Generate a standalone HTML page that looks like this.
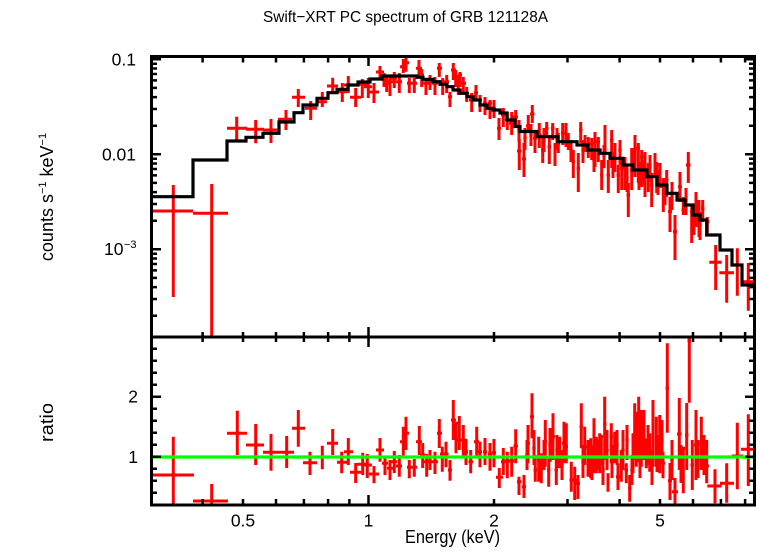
<!DOCTYPE html>
<html><head><meta charset="utf-8"><style>
html,body{margin:0;padding:0;background:#fff;}
svg{display:block;}
text{font-family:"Liberation Sans",Arial,sans-serif;fill:#000;}
</style></head><body>
<svg width="758" height="556" viewBox="0 0 758 556" xmlns="http://www.w3.org/2000/svg">
<rect width="758" height="556" fill="#fff"/>
<defs>
<clipPath id="ct"><rect x="151.5" y="56.5" width="603" height="280.5"/></clipPath>
<clipPath id="cb"><rect x="151.5" y="337" width="603" height="168"/></clipPath>
</defs>

<!-- title -->
<text x="405.5" y="22" font-size="16" text-anchor="middle" textLength="285" lengthAdjust="spacingAndGlyphs">Swift−XRT PC spectrum of GRB 121128A</text>

<!-- top panel data -->
<g clip-path="url(#ct)" fill="none" stroke="#ff0000" stroke-width="3">
<path d="M151.5 211H193M173.3 185V297M193 213.3H228M211.7 184V337M227 128.3H247M236.7 116.7V140M246 129.3H264M255.7 120V143.3M263 130H278M271 119V143M278 119.3H292M286 110V130M292 97.3H305M298.3 89V107M305 108.3H317M310.7 101V120M318 101.7H327M322.3 92V107M327 86H338M332.7 77.7V93.3M337 91.7H347M342.3 83V102M344 85H353M348.3 76V93M350 97.3H361M355.7 88V107M357 84.3H367M362.3 79V98M364 86.7H372M368.3 78V98M369 92H379M374 83V103M376 72H384M380 66V78M381 79.3H387M384 73V87M383 83.3H390M386.7 76V92M387 81.7H393M390 75V96M391 78.3H397M394.3 72V88M396 81.7H402M399.3 73V93M400 66.7H406M403.3 59V73M403 62.7H409M406 55V71.7M407 83.3H412M409.3 78V93M411 83.3H417M414.3 78V93M416 68.3H422M419 60V77M419 75H424M421.7 69V87M423 83.3H429M426 79V95M427 81.7H433M430 75V90M432 83.3H438M435 77V95M437 68.3H442M439.3 63V77M440 83.3H445M442.7 78V95M444 81.7H449M446.7 75V93M448 96.7H452M450 92V107M451 70H456M453.3 63V80M453 76.7H458M455.7 70V87M456 83.3H461M458.3 75V95M458 75H462M460 72V87M461 83.3H466M463.3 77V92M464 93.3H469M466.7 87V102M469 100H474M471.7 93V112M474 92.7H478M476 85V100M478 100H482M480 95V112M483 103.3H487M485 97V115M488 103.3H492M490 100V119M492 108.3H496M494 100V118M497 128.3H501M499 118V140M501 115H505.5M503.3 108V127M505 120H509M507.3 112V130M509 123.3H514M511.7 112V135M513 117H518M515.7 110V127M517 151H521.5M519.3 139V170M522 159H526M524 143V177M526 126H530.5M528.3 115V132M530 114H534.5M532.3 105V123M533 138.3H537M535 130V153M537 135H541.5M539.3 123V148M541 150H544.5M542.7 135V163M545 128.3H548.5M546.7 122V138M547.5 146.7H551M549.3 138V164M551 128.3H554.5M552.7 123V140M553.5 150H556.5M555 143V166M556.5 143.3H560M558.3 133V153M561 133.3H564.5M562.7 123V145M564.5 135H567.5M566 123V147M567 143.3H570M568.3 133V150M571.5 161.7H575M573.3 150V178M576.5 168.3H580M578.3 153V192M579 130H582.5M580.7 122V143M583.5 140H586.5M585 135V152M586.5 145H590M588.3 137V158M590 143.3H593.5M591.7 138V160M593.5 151.7H596.5M595 132V167M596.5 141.7H600M598.3 137V162M600 175H603.5M601.7 160V190M603.5 136.7H606.5M605 125V155M606.5 175H610M608.3 160V193M610 140H613.5M611.7 130V168M613.5 153.3H616.5M615 143V172M616.5 175H620M618.3 165V193M620 168.3H623.5M621.7 157V190M623.5 166.7H626.5M625 157V190M626.5 195H630M628.3 183V217M630 170H633.5M631.7 148V190M633.5 143.3H636.5M635 135V177M636.5 148.3H640M638.3 143V183M640 156.7H643.5M641.7 150V187M643.5 155H646.5M645 152V197M646.5 173.3H650M648.3 163V192M650 185H653.5M651.7 173V207M653.5 160H656.5M655 153V177M655 165H658.5M656.7 162V193M658.5 171.7H661.5M660 163V188M661.5 186.7H665M663.3 178V212M665 180H668.5M666.7 170V197M668 211.7H672M670 197V232M673 231.7H677M675 215V260M678 186.7H682M680 172V202M681.5 210H685.5M683.3 197V215M686 165H690.5M688.3 152V183M690 211.7H693.5M691.7 205V243M694 206.7H698M696 192V227M697.5 216.7H701M699 200V237M701 208.3H704.5M702.7 200V222M705 221.7H709.5M707.3 217V235M709.3 262.3H721.7M715.7 245V290M719.3 272.7H734M726.7 255V302.7M734 265H741M737.3 248.3V295.7M743 281.7H754.5M748.3 263V310.7"/>
<path d="M542.3 140H545.7M544 128V152M555.3 138H558.7M557 128V150M569.3 150H572.7M571 140V162M581.3 150H584.7M583 140V163M592.3 160H595.7M594 148V172M602.3 155H605.7M604 145V168M611.3 165H614.7M613 152V178M618.3 150H621.7M620 140V165M625.3 178H628.7M627 165V192M631.3 158H634.7M633 148V172M637.3 175H640.7M639 162V190M642.3 170H645.7M644 160V185M648.3 165H651.7M650 155V182M656.3 180H659.7M658 170V195M663.3 190H666.7M665 178V205M670.3 195H673.7M672 182V210M684.3 200H687.7M686 188V215M692.3 220H695.7M694 208V235M698.3 225H701.7M700 212V240M517.3 130H520.7M519 120V142M523.3 138H526.7M525 128V150M529.3 135H532.7M531 124V146"/>
</g>
<!-- model -->
<g clip-path="url(#ct)">
<path fill="none" stroke="#000" stroke-width="3.2" d="M151.5 196.7H193V160H227V141H246V137.3H263V133.3H279V122H294V112.7H303V105H317V98.3H328V92.7H337V89.3H348V85H358V82H370V79H382V76H417V77.3H423V79.3H433V81.7H440V84.3H447V86.7H453V90H460V93.3H467V96.7H473V100H480V105H487V108.3H493V110H500V113H507V120H515V126.5H520V131.5H537V136.7H558V141.7H577V145H588V150H600V153.3H610V158.3H623V165H633V170H647V176.7H657V185H667V193.3H677V200H685V205H693V215H700V220H706.7V235H720V250H732V265H742V285H754.5"/>
</g>

<!-- bottom panel data -->
<g clip-path="url(#cb)" fill="none" stroke="#ff0000" stroke-width="3">
<path d="M151.5 475H194M173.3 436.7V505M193 501H228M211.7 484V505M227 433.3H247M237.3 410.7V455M246 445H264M255.7 424V465M263 452.3H278M271 434V470.7M278 452.3H294M286.7 436V468M292 428.3H305M298.3 410V446.7M303 462.7H317M310 451.7V475M318 457H327M322.3 445.7V469.3M327 443.3H338M332.7 429V455M337 462.3H347M341.7 451.7V473.3M344 451.7H353M348.3 438V465M350 472.3H361M355.7 463V483M357 464.3H367M362.7 452.7V475M364 465H372M367.3 454V478M369 474H379M374 466V483.3M376 450H384M380 438V461.7M382 463.3H388M385 458V475M387 468.3H393M390 460V480M391 461.7H397M394.3 451V473M396 466H402M399.3 455V476.7M400 441.7H406M403.3 426.7V456M403 433.3H409M406 416.7V450M407 467.3H412M409.3 460V478.3M411 467.3H417M414.3 459V476.7M416 441.7H422M419.3 426V455M420 455H425M422.7 443V468M424 461.7H429M426.7 454V476.7M427 461.7H433M430 450V470M432 461.7H438M435 451.7V474M437 433.3H442M439.3 419V448M440 454H445M442.3 446.7V471.7M443.5 454H448.5M446 441.7V467.3M448 470H452M450 460V480.7M451 420H456M453.3 400V440M454 423.3H458M456 421.7V453.3M457 440H462M459.3 416V450M461 440H466M463.3 425V456.7M464 451.7H468M466 439V465M468.5 461.7H473M470.7 450V473.3M474 441.7H479M476.7 426.7V456.7M478 451.7H482M480 441.7V467.3M483 451.7H487M485 438V465M488 454H492M490 443V470.7M492 452.7H496M494 439V467.3M496 477.3H503M499.3 468V488M501 461.7H505.5M503.3 448V475M505 461H509.5M507.3 451.7V478.3M509.5 461H514M511.7 446.7V476.7M513.5 446H518M515.7 429.3V463.3M517 481.7H521.5M519 476.7V495M522 486.7H526M524 475V498M526 443.3H530M528 425V463.3M530 416.7H534M532 393.3V438.3M533.5 470H537M535.3 455V481.7M537 460H540.5M538.7 436.7V481.7M539.5 461.7H543M541.3 453.3V483.3M543.5 441.7H547M545.3 420V466.7M547 470H550.5M548.7 458.3V486.7M551 436.7H555M553 413.3V460M554.5 470H558M556.3 458.3V485M558 456.7H561.5M559.7 436.7V468.3M562 443.3H565M564 421.7V463.3M565 446.7H568M566.3 423.3V463.3M569.5 480H573M571.3 461.7V491.7M573 480H576.5M574.7 466.7V500M576 483.3H580M578 475V499M579.5 426.7H583M581.3 403.3V448.3M583 446.7H586.5M584.7 426.7V465M586.5 456.7H589.5M588 440V476.7M589 446.7H592.5M590.7 438.3V478.3M592.5 455H595.5M594 418.3V473.3M595 440H598M596.3 436.7V473.3M598 445H601M599.7 433.3V473.3M600 436.7H603M601.3 435V465M603 424H606.5M604.7 396.7V460M606.5 481.7H609.5M608 473.3V491.7M609.5 436.7H613M611.3 423.3V463.3M613 446.7H616.5M614.7 431.7V463.3M616 476.7H620M618 463.3V490M619.5 460H623M621.3 450V481.7M624.5 470H628M626.3 463.3V483.3M628 488.3H631.5M629.7 475V501.7M631.5 456.7H634M633 433.3V473.3M633.5 436.7H636M634.7 403.3V460M635 453.3H637.5M636.3 411.7V466.7M637.5 450H640M638.7 396.7V461.7M640 456.7H642.5M641.3 410V466.7M642.5 440H645.5M644 410V460M645 450H647.5M646.3 438.3V468.3M648 456.7H651.5M649.7 433.3V471.7M651.5 433.3H654.5M653 400V466.7M655 443.3H658M656.3 416.7V466.7M658 445H661.5M659.7 415V473.3M661 463.3H665M663 451.7V478.3M665.5 388.3H669M667.3 343.3V432.7M668 480.7H672M670 463V500M672 491.7H678M675 478V505M677 434H681.5M679.3 398V470M681.5 448.3H685M683.3 446.7V493.3M685 435H688.5M686.7 403V470M687.5 340.7H691M689.3 337V402.7M690.5 465H694M692.3 440V490M694 445H698M696 410V480M699 443.3H703.5M701.3 416.7V470M704.5 466H709M706.7 440V483.3M707.3 486H721.7M715 469.3V503.3M720 483.3H734M726.7 463.3V502.7M731.7 456H743.3M737.3 422.7V489.3M741 449.3H754.5M748.3 414.3V486"/>
<path d="M542.3 455H545.7M544 440V470M555.3 450H558.7M557 435V468M560.3 465H563.7M562 450V480M581.3 462H584.7M583 445V478M590.3 465H593.7M592 448V480M595.3 455H598.7M597 440V470M601.3 470H604.7M603 455V485M605.3 450H608.7M607 430V470M610.3 462H613.7M612 445V478M615.3 445H618.7M617 430V465M621.3 450H624.7M623 430V470M625.3 440H628.7M627 425V460M630.3 470H633.7M632 455V485M638.3 462H641.7M640 445V478M646.3 445H649.7M648 425V465M650.3 470H653.7M652 450V485M655.3 455H658.7M657 435V472M660.3 440H663.7M662 420V462M670.3 460H673.7M672 440V480M679.3 465H682.7M681 445V483M696.3 460H699.7M698 440V478M702.3 455H705.7M704 435V475M525.3 455H528.7M527 440V470M532.3 448H535.7M534 430V465M548.3 445H551.7M550 428V462"/>
</g>
<!-- unity line -->
<path d="M151.5 457H754.5" stroke="#00ff00" stroke-width="3.2"/>

<!-- ticks -->
<g fill="none" stroke="#000" stroke-width="2.5">
<path d="M202.6 56.5V62.5M243 56.5V62.5M276 56.5V62.5M303.9 56.5V62.5M328.1 56.5V62.5M349.4 56.5V62.5M368.5 56.5V66M494 56.5V62.5M567.5 56.5V62.5M619.6 56.5V62.5M660 56.5V62.5M693 56.5V62.5M720.9 56.5V62.5M745.1 56.5V62.5"/>
<path d="M202.6 332V342M243 332V342M276 332V342M303.9 332V342M328.1 332V342M349.4 332V342M368.5 327V347M494 332V342M567.5 332V342M619.6 332V342M660 332V342M693 332V342M720.9 332V342M745.1 332V342"/>
<path d="M202.6 505V499M243 505V499M276 505V499M303.9 505V499M328.1 505V499M349.4 505V499M368.5 505V495M494 505V499M567.5 505V499M619.6 505V499M660 505V499M693 505V499M720.9 505V499M745.1 505V499"/>
<path d="M151.5 315.7H157M151.5 299H157M151.5 287.1H157M151.5 277.9H157M151.5 270.4H157M151.5 264H157M151.5 258.5H157M151.5 253.7H157M151.5 249.3H161M151.5 220.7H157M151.5 204H157M151.5 192.1H157M151.5 182.9H157M151.5 175.4H157M151.5 169H157M151.5 163.5H157M151.5 158.7H157M151.5 154.3H161M151.5 125.7H157M151.5 109H157M151.5 97.1H157M151.5 87.9H157M151.5 80.4H157M151.5 74H157M151.5 68.5H157M151.5 63.7H157M151.5 59.3H161"/>
<path d="M754.5 315.7H749M754.5 299H749M754.5 287.1H749M754.5 277.9H749M754.5 270.4H749M754.5 264H749M754.5 258.5H749M754.5 253.7H749M754.5 249.3H745M754.5 220.7H749M754.5 204H749M754.5 192.1H749M754.5 182.9H749M754.5 175.4H749M754.5 169H749M754.5 163.5H749M754.5 158.7H749M754.5 154.3H745M754.5 125.7H749M754.5 109H749M754.5 97.1H749M754.5 87.9H749M754.5 80.4H749M754.5 74H749M754.5 68.5H749M754.5 63.7H749M754.5 59.3H745"/>
<path d="M151.5 492.7H157M151.5 480.7H157M151.5 468.7H157M151.5 456.7H161M151.5 444.7H157M151.5 432.7H157M151.5 420.7H157M151.5 408.7H157M151.5 396.7H161M151.5 384.7H157M151.5 372.7H157M151.5 360.7H157M151.5 348.7H157"/>
<path d="M754.5 492.7H749M754.5 480.7H749M754.5 468.7H749M754.5 456.7H745M754.5 444.7H749M754.5 432.7H749M754.5 420.7H749M754.5 408.7H749M754.5 396.7H745M754.5 384.7H749M754.5 372.7H749M754.5 360.7H749M754.5 348.7H749"/>
</g>

<!-- frame -->
<g fill="none" stroke="#000" stroke-width="3">
<rect x="151.5" y="56.5" width="603" height="448.5"/>
<path d="M151.5 337H754.5"/>
</g>

<!-- y tick labels -->
<g font-size="17.5" text-anchor="end">
<text x="136" y="65.5">0.1</text>
<text x="136" y="160.5">0.01</text>
<text x="123.5" y="255">10</text>
<text x="138" y="402.5">2</text>
<text x="138" y="463">1</text>
</g>
<text x="124" y="248" font-size="11">−3</text>

<!-- x tick labels -->
<g font-size="17.5" text-anchor="middle">
<text x="243" y="526.5">0.5</text>
<text x="368.5" y="526.5">1</text>
<text x="494" y="526.5">2</text>
<text x="660" y="526.5">5</text>
</g>

<!-- axis titles -->
<text x="452.5" y="543" font-size="18" text-anchor="middle" textLength="95" lengthAdjust="spacingAndGlyphs">Energy (keV)</text>
<text transform="translate(53,197) rotate(-90)" font-size="18" text-anchor="middle">counts s<tspan font-size="11" dy="-7">−1</tspan><tspan dy="7"> keV</tspan><tspan font-size="11" dy="-7">−1</tspan></text>
<text transform="translate(53,422.5) rotate(-90)" font-size="18" text-anchor="middle" textLength="39" lengthAdjust="spacingAndGlyphs">ratio</text>
</svg>
</body></html>
